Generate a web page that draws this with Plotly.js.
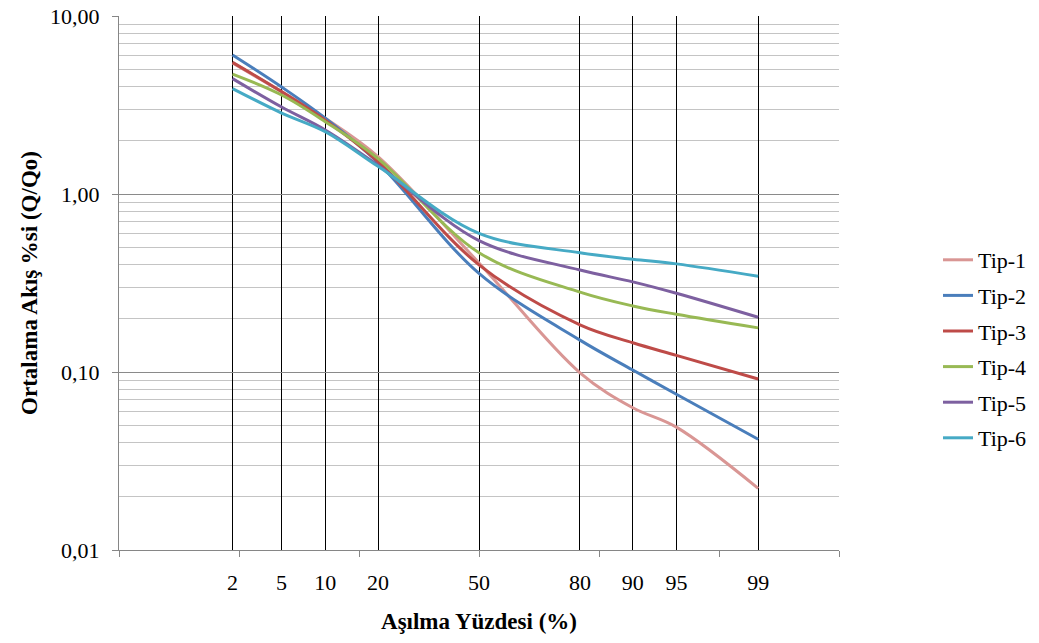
<!DOCTYPE html>
<html>
<head>
<meta charset="utf-8">
<script src="https://cdn.plot.ly/plotly-3.0.1.min.js"></script>
<style>html,body{margin:0;padding:0;background:#fff;}#chart{width:1039px;height:643px;}</style>
</head>
<body>
<div id="chart"></div>
<script>
// Exceedance percentages (x categories, plotted on a normal-probability scale)
const exceedance = [2, 5, 10, 20, 50, 80, 90, 95, 99];
const xTickLabels = ['2', '5', '10', '20', '50', '80', '90', '95', '99'];

// Series values (Q/Qo)
const tip1 = [5.45, 3.75, 2.66, 1.62, 0.41, 0.099, 0.063, 0.049, 0.0222];
const tip2 = [6.04, 3.99, 2.67, 1.50, 0.358, 0.151, 0.1026, 0.075, 0.0419];
const tip3 = [5.49, 3.76, 2.60, 1.52, 0.40, 0.184, 0.146, 0.124, 0.0914];
const tip4 = [4.72, 3.60, 2.55, 1.58, 0.468, 0.281, 0.235, 0.211, 0.177];
const tip5 = [4.45, 3.08, 2.29, 1.45, 0.547, 0.374, 0.321, 0.277, 0.203];
const tip6 = [3.91, 2.85, 2.24, 1.43, 0.601, 0.468, 0.43, 0.405, 0.345];

const seriesNames = ['Tip-1', 'Tip-2', 'Tip-3', 'Tip-4', 'Tip-5', 'Tip-6'];
const seriesValues = [tip1, tip2, tip3, tip4, tip5, tip6];
const seriesColors = ['#D99694', '#4A7EBB', '#BE4B48', '#98B954', '#7D60A0', '#46AAC5'];

const yTickVals = [0.01, 0.1, 1, 10];
const yTickText = ['0,01', '0,10', '1,00', '10,00'];

// inverse standard normal CDF (Acklam)
function normInv(p) {
  const a=[-3.969683028665376e+01,2.209460984245205e+02,-2.759285104469687e+02,1.383577518672690e+02,-3.066479806614716e+01,2.506628277459239e+00];
  const b=[-5.447609879822406e+01,1.615858368580409e+02,-1.556989798598866e+02,6.680131188771972e+01,-1.328068155288572e+01];
  const c=[-7.784894002430293e-03,-3.223964580411365e-01,-2.400758277161838e+00,-2.549732539343734e+00,4.374664141464968e+00,2.938163982698783e+00];
  const d=[7.784695709041462e-03,3.224671290700398e-01,2.445134137142996e+00,3.754408661907416e+00];
  const pl=0.02425, ph=1-pl;
  let q, r;
  if (p < pl) { q=Math.sqrt(-2*Math.log(p)); return (((((c[0]*q+c[1])*q+c[2])*q+c[3])*q+c[4])*q+c[5])/((((d[0]*q+d[1])*q+d[2])*q+d[3])*q+1); }
  if (p <= ph) { q=p-0.5; r=q*q; return (((((a[0]*r+a[1])*r+a[2])*r+a[3])*r+a[4])*r+a[5])*q/(((((b[0]*r+b[1])*r+b[2])*r+b[3])*r+b[4])*r+1); }
  q=Math.sqrt(-2*Math.log(1-p)); return -(((((c[0]*q+c[1])*q+c[2])*q+c[3])*q+c[4])*q+c[5])/((((d[0]*q+d[1])*q+d[2])*q+d[3])*q+1);
}
const xz = exceedance.map(p => normInv(p / 100));

// minor log gridlines 2..9 per decade
const minorY = [];
[0.01, 0.1, 1].forEach(d => { for (let k = 2; k <= 9; k++) minorY.push(+(d * k).toPrecision(3)); });

const FONT = 'Liberation Serif, Times New Roman, serif';

const traces = seriesNames.map((name, i) => ({
  type: 'scatter', mode: 'lines', name: name,
  x: xz, y: seriesValues[i],
  line: {color: seriesColors[i], width: 3, shape: 'spline', smoothing: 1},
  legendgroup: 'g' + i,
  hoverinfo: 'x+y+name'
}));

const layout = {
  width: 1039, height: 643,
  margin: {l: 119, r: 200, t: 16, b: 93},
  paper_bgcolor: '#ffffff', plot_bgcolor: '#ffffff',
  font: {family: FONT, size: 22, color: '#000'},
  showlegend: true,
  legend: {
    xref: 'container', yref: 'container',
    x: 0.9028, y: 1 - 349 / 643, xanchor: 'left', yanchor: 'middle',
    font: {family: FONT, size: 22, color: '#000'},
    tracegroupgap: 4, traceorder: 'grouped',
    bgcolor: 'rgba(0,0,0,0)', itemwidth: 30
  },
  xaxis: {
    type: 'linear', range: [-3, 3], fixedrange: true,
    tickmode: 'array', tickvals: xz, ticktext: xTickLabels,
    ticks: '', showgrid: true, gridcolor: '#000000', gridwidth: 1,
    zeroline: false, showline: true, linecolor: '#868686', linewidth: 1,
    ticklabelstandoff: 13,
    tickfont: {family: FONT, size: 22, color: '#000'},
    minor: {tickmode: 'array', tickvals: [-3, -2, -1, 0, 1, 2, 3], ticks: 'outside', ticklen: 6, tickcolor: '#868686', tickwidth: 1, showgrid: false},
    title: {text: '<b>Aşılma Yüzdesi (%)</b>', font: {family: FONT, size: 23, color: '#000'}, standoff: 18}
  },
  yaxis: {
    type: 'log', range: [-2, 1], fixedrange: true,
    tickmode: 'array', tickvals: yTickVals, ticktext: yTickText,
    ticks: 'outside', ticklen: 6, tickcolor: '#868686', tickwidth: 1,
    showgrid: true, gridcolor: '#8a8a8a', gridwidth: 1,
    zeroline: false, showline: true, linecolor: '#868686', linewidth: 1,
    ticklabelstandoff: 8,
    tickfont: {family: FONT, size: 22, color: '#000'},
    minor: {tickmode: 'array', tickvals: minorY, ticks: '', showgrid: true, gridcolor: '#c4c4c4', gridwidth: 1},
    title: {text: '<b>Ortalama Akış %si (Q/Qo)</b>', font: {family: FONT, size: 23, color: '#000'}, standoff: 6}
  }
};

Plotly.newPlot('chart', traces, layout, {displayModeBar: false, staticPlot: true});
</script>
</body>
</html>
